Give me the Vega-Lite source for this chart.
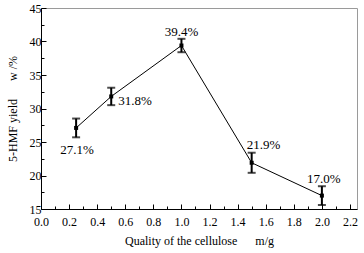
{
  "$schema": "https://vega.github.io/schema/vega-lite/v6.json",
  "width": 316,
  "height": 201,
  "autosize": {"type": "none"},
  "padding": {"left": 41, "top": 8, "right": 7, "bottom": 44},
  "background": "white",
  "config": {
    "view": {"stroke": "#9a9a9a", "strokeWidth": 1},
    "font": "Liberation Serif",
    "axis": {
      "grid": false,
      "domainColor": "black",
      "tickColor": "black",
      "labelColor": "black",
      "titleColor": "black",
      "labelFont": "Liberation Serif",
      "titleFont": "Liberation Serif",
      "labelFontSize": 12,
      "titleFontSize": 12,
      "titleFontWeight": "normal"
    }
  },
  "data": {
    "values": [
      {"m": 0.25, "w": 27.1, "err": 1.4, "label": "27.1%"},
      {"m": 0.5, "w": 31.8, "err": 1.3, "label": "31.8%"},
      {"m": 1.0, "w": 39.4, "err": 1.0, "label": "39.4%"},
      {"m": 1.5, "w": 21.9, "err": 1.5, "label": "21.9%"},
      {"m": 2.0, "w": 17.0, "err": 1.4, "label": "17.0%"}
    ]
  },
  "encoding": {
    "x": {
      "field": "m",
      "type": "quantitative",
      "scale": {"domain": [0, 2.25], "nice": false, "zero": false},
      "axis": {
        "values": [0, 0.1, 0.2, 0.3, 0.4, 0.5, 0.6, 0.7, 0.8, 0.9, 1.0, 1.1, 1.2, 1.3, 1.4, 1.5, 1.6, 1.7, 1.8, 1.9, 2.0, 2.1, 2.2],
        "labelExpr": "round(datum.value*10) % 2 == 0 ? format(datum.value, '.1f') : ''",
        "tickSize": {"condition": {"test": "round(datum.value*10) % 2 == 0", "value": -5}, "value": -3},
        "labelPadding": 12,
        "labelFlush": false,
        "labelOverlap": false,
        "title": "Quality of the cellulose\u00a0\u00a0\u00a0\u00a0\u00a0\u00a0m/g",
        "titlePadding": 6
      }
    },
    "y": {
      "field": "w",
      "type": "quantitative",
      "scale": {"domain": [15, 45], "nice": false, "zero": false},
      "axis": {
        "values": [15, 17.5, 20, 22.5, 25, 27.5, 30, 32.5, 35, 37.5, 40, 42.5, 45],
        "labelExpr": "datum.value % 5 == 0 ? format(datum.value, 'd') : ''",
        "tickSize": {"condition": {"test": "datum.value % 5 == 0", "value": -5}, "value": -3},
        "labelPadding": 5,
        "labelFlush": false,
        "labelOverlap": false,
        "title": "5-HMF yield\u00a0\u00a0\u00a0\u00a0\u00a0\u00a0w /%",
        "titlePadding": 10
      }
    }
  },
  "layer": [
    {"mark": {"type": "line", "color": "black", "strokeWidth": 1}},
    {
      "mark": {"type": "errorbar", "color": "black", "thickness": 2, "ticks": {"size": 8, "thickness": 2, "color": "black"}},
      "encoding": {"yError": {"field": "err"}}
    },
    {"mark": {"type": "square", "color": "black", "opacity": 1, "size": 16}},
    {
      "transform": [{"filter": "datum.m == 0.25"}],
      "mark": {"type": "text", "fontSize": 13, "dx": 1, "dy": 22, "color": "black"},
      "encoding": {"text": {"field": "label"}}
    },
    {
      "transform": [{"filter": "datum.m == 0.5"}],
      "mark": {"type": "text", "fontSize": 13, "align": "left", "dx": 7, "dy": 5, "color": "black"},
      "encoding": {"text": {"field": "label"}}
    },
    {
      "transform": [{"filter": "datum.m == 1.0"}],
      "mark": {"type": "text", "fontSize": 13, "dx": 0, "dy": -14, "color": "black"},
      "encoding": {"text": {"field": "label"}}
    },
    {
      "transform": [{"filter": "datum.m == 1.5"}],
      "mark": {"type": "text", "fontSize": 13, "dx": 12, "dy": -18, "color": "black"},
      "encoding": {"text": {"field": "label"}}
    },
    {
      "transform": [{"filter": "datum.m == 2.0"}],
      "mark": {"type": "text", "fontSize": 13, "dx": 2, "dy": -17, "color": "black"},
      "encoding": {"text": {"field": "label"}}
    }
  ]
}
